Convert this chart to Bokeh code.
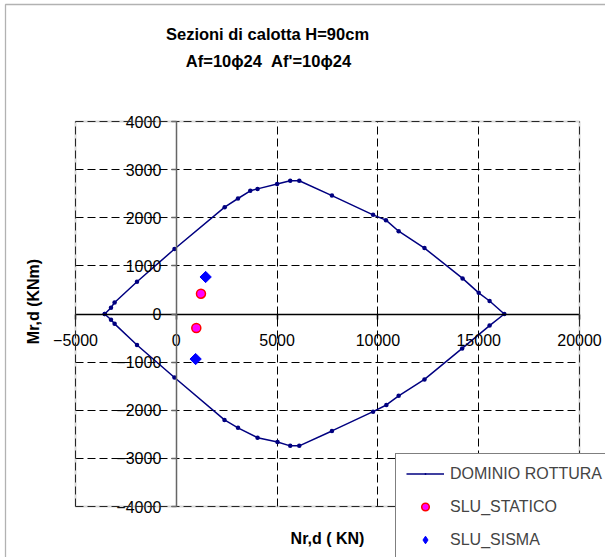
from bokeh.plotting import figure
from bokeh.models import (Range1d, SingleIntervalTicker, Label, Legend, LegendItem,
                          BoxAnnotation, Grid)
from bokeh.embed import file_html
from bokeh.resources import INLINE
import math

# ---- data ----
dominio_n = [-3550, -3240, -3060, -1950, -90, 2400, 3060, 3670, 4030, 5000, 5650, 6100,
             7720, 9760, 10400, 11030, 12310, 14200, 15000, 15540, 16270,
             15540, 14180, 12310, 11030, 10420, 9760, 7720, 6100, 5650, 5020, 4030,
             3060, 2390, -90, -1950, -3060, -3240, -3550]
dominio_m = [0, 130, 240, 670, 1350, 2220, 2400, 2560, 2600, 2700, 2770, 2770,
             2460, 2060, 1950, 1720, 1370, 740, 440, 270, 0,
             -240, -715, -1360, -1700, -1890, -2030, -2430, -2740, -2740, -2660, -2570,
             -2365, -2200, -1320, -645, -205, -120, 0]
statico_n = [1224, 992]
statico_m = [422, -291]
sisma_n = [1455, 958]
sisma_m = [769, -936]

x_bounds = (-5000, 20000)
y_bounds = (-4000, 4000)
x_tick_step = 5000
y_tick_step = 1000

title_1 = "Sezioni di calotta H=90cm"
title_2 = "Af=10\u03d524\u00a0 Af'=10\u03d524"
x_label = "Nr,d ( KN)"
y_label = "Mr,d (KNm)"
series_names = ["DOMINIO ROTTURA", "SLU_STATICO", "SLU_SISMA"]

FONT = "Liberation Sans"

# ---- layout: the frame covers the whole canvas, the plot area is a box inside ----
W, H = 605, 557
PAD_L, PAD_R, PAD_T, PAD_B = 75, 26, 121, 51
kx = (x_bounds[1] - x_bounds[0]) / (W - PAD_L - PAD_R)
ky = (y_bounds[1] - y_bounds[0]) / (H - PAD_T - PAD_B)
x_range = Range1d(x_bounds[0] - PAD_L * kx, x_bounds[1] + PAD_R * kx)
y_range = Range1d(y_bounds[0] - PAD_B * ky, y_bounds[1] + PAD_T * ky)

p = figure(width=W, height=H, output_backend="svg", toolbar_location=None,
           x_range=x_range, y_range=y_range,
           min_border=0, min_border_left=0, min_border_right=0,
           min_border_top=0, min_border_bottom=0)
p.title.visible = False
p.outline_line_color = None
p.background_fill_color = "white"
p.border_fill_color = "white"

# axes crossing at zero
for ax in (p.xaxis[0], p.yaxis[0]):
    ax.fixed_location = 0
    ax.major_tick_in = 0
    ax.major_tick_out = 5
    ax.minor_tick_line_color = None
    ax.major_label_text_font = FONT
    ax.major_label_text_font_size = "16px"
    ax.major_label_text_color = "black"
    ax.axis_line_width = 1.5
    ax.major_tick_line_width = 1.5
p.xaxis[0].ticker = SingleIntervalTicker(interval=x_tick_step, num_minor_ticks=0)
p.yaxis[0].ticker = SingleIntervalTicker(interval=y_tick_step, num_minor_ticks=0)
p.xaxis[0].bounds = x_bounds
p.yaxis[0].bounds = y_bounds
p.xaxis[0].axis_line_color = "black"
p.xaxis[0].major_tick_line_color = "black"
p.yaxis[0].axis_line_color = "#666666"
p.yaxis[0].major_tick_line_color = "#666666"
p.xaxis[0].major_label_standoff = 15
p.yaxis[0].major_label_standoff = 10

p.xgrid.ticker = SingleIntervalTicker(interval=x_tick_step, num_minor_ticks=0)
p.ygrid.ticker = SingleIntervalTicker(interval=y_tick_step, num_minor_ticks=0)
p.xgrid.bounds = x_bounds
p.ygrid.bounds = y_bounds
has_cross = "cross_bounds" in Grid.properties()
if has_cross:
    p.xgrid.cross_bounds = y_bounds
    p.ygrid.cross_bounds = x_bounds
for g in (p.xgrid[0], p.ygrid[0]):
    g.grid_line_color = "black"
    g.grid_line_dash = "8 4"
    g.grid_line_width = 1

if not has_cross:
    cover = dict(fill_color="white", fill_alpha=1, line_color=None, level="underlay")
    p.add_layout(BoxAnnotation(right=x_bounds[0], **cover))
    p.add_layout(BoxAnnotation(left=x_bounds[1], **cover))
    p.add_layout(BoxAnnotation(bottom=y_bounds[1], **cover))
    p.add_layout(BoxAnnotation(top=y_bounds[0], **cover))

# plot-area border
p.add_layout(BoxAnnotation(left=x_bounds[0], right=x_bounds[1],
                           bottom=y_bounds[0], top=y_bounds[1],
                           fill_alpha=0, line_color="#808080", line_width=2))
# chart-area border (left and top edges visible)
p.add_layout(BoxAnnotation(left=5, right=W + 20, top=H - 4, bottom=-20,
                           left_units="screen", right_units="screen",
                           top_units="screen", bottom_units="screen",
                           fill_alpha=0, line_color="black", line_width=1.3))

# series
r_line = p.line(dominio_n, dominio_m, line_color="#000080", line_width=1.5)
r_pts = p.scatter(dominio_n, dominio_m, marker="dot", size=18,
                  fill_color="#000080", line_color="#000080", line_width=1.5)
r_stat = p.scatter(statico_n, statico_m, marker="circle", size=9,
                   fill_color="#FF00FF", line_color="#FF0000", line_width=1.5)
# legend swatch for the sisma points (legend swatches are never rotated)
r_sis_key = p.scatter(sisma_n, sisma_m, marker="diamond", size=1,
                      fill_color="#0000FF", line_color="#0000FF")
r_sis = p.scatter(sisma_n, sisma_m, marker="square", size=8, angle=math.pi / 4,
                  fill_color="#0000FF", line_color="#0000FF")

legend = Legend(items=[LegendItem(label=series_names[0], renderers=[r_line, r_pts]),
                       LegendItem(label=series_names[1], renderers=[r_stat]),
                       LegendItem(label=series_names[2], renderers=[r_sis_key])],
                location=(395, -3), orientation="vertical",
                label_text_font=FONT, label_text_font_size="16px",
                label_height=19, glyph_height=19, glyph_width=38,
                spacing=14, padding=10, margin=0, label_standoff=6,
                border_line_color="black", border_line_width=1,
                background_fill_color="white", background_fill_alpha=1)
p.add_layout(legend)

# titles and axis labels (screen units relative to the canvas-wide frame)
common = dict(x_units="screen", y_units="screen", text_font=FONT,
              text_font_style="bold", text_align="center", text_baseline="middle",
              text_color="black")
p.add_layout(Label(x=267, y=H - 33, text=title_1, text_font_size="16.5px", **common))
p.add_layout(Label(x=268, y=H - 60, text=title_2, text_font_size="16.5px", **common))
p.add_layout(Label(x=327, y=H - 538, text=x_label, text_font_size="16px", **common))
p.add_layout(Label(x=33, y=H - 301, text=y_label, text_font_size="16px",
                   angle=math.pi / 2, **common))

open("out.html", "w").write(file_html(p, INLINE))
